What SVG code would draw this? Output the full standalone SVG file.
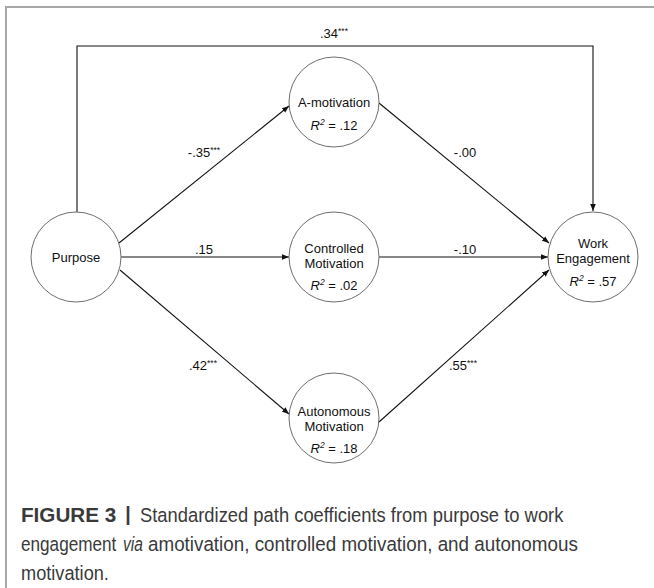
<svg xmlns="http://www.w3.org/2000/svg" width="654" height="588" viewBox="0 0 654 588">
<style>
.node circle{fill:#fff;stroke:#6e6e6e;stroke-width:1}
.t{font-family:"Liberation Sans",Arial,sans-serif;font-size:13px;fill:#111;text-anchor:middle}
.i{font-style:italic}
.sup{font-size:8.5px}
.conn line,.conn polyline{stroke:#111;stroke-width:1.1;fill:none}
.cap{font-family:"Liberation Sans",Arial,sans-serif;font-size:19.5px;fill:#3a3a3a}
</style>
<defs>
<marker id="ah" viewBox="0 0 10 10" refX="10" refY="5" markerWidth="7" markerHeight="7" markerUnits="userSpaceOnUse" orient="auto">
<path d="M0,1 L10,5 L0,9 Z" fill="#111"/>
</marker>
</defs>
<rect width="654" height="588" fill="#fff"/>
<g id="frame" stroke="#a8a8a8" stroke-width="2" fill="none">
<polyline points="6,588 6,7 654,7"/>
</g>
<g class="conn" id="connectors">
<polyline points="77,212 77,46 593,46 593,211" marker-end="url(#ah)"/>
<line x1="119" y1="243" x2="289" y2="106" marker-end="url(#ah)"/>
<line x1="121" y1="257" x2="289" y2="257" marker-end="url(#ah)"/>
<line x1="120" y1="270" x2="289" y2="414" marker-end="url(#ah)"/>
<line x1="379" y1="103" x2="549" y2="243" marker-end="url(#ah)"/>
<line x1="379" y1="257" x2="548" y2="257" marker-end="url(#ah)"/>
<line x1="379" y1="422" x2="549" y2="270" marker-end="url(#ah)"/>
</g>
<g id="labels" class="t">
<text x="334" y="38">.34<tspan class="sup" dy="-4">***</tspan></text>
<text x="204" y="157">-.35<tspan class="sup" dy="-4">***</tspan></text>
<text x="204" y="254">.15</text>
<text x="203" y="370">.42<tspan class="sup" dy="-4">***</tspan></text>
<text x="465" y="157">-.00</text>
<text x="465" y="254">-.10</text>
<text x="463" y="370">.55<tspan class="sup" dy="-4">***</tspan></text>
</g>
<g id="purpose" class="node">
<circle cx="76" cy="257" r="45"/>
<text class="t" x="76" y="262">Purpose</text>
</g>
<g id="amotivation" class="node">
<circle cx="334" cy="102" r="45"/>
<text class="t" x="334" y="107">A-motivation</text>
<text class="t" x="334" y="130"><tspan class="i">R</tspan><tspan class="sup i" dy="-5">2</tspan><tspan dy="5"> = .12</tspan></text>
</g>
<g id="controlled" class="node">
<circle cx="334" cy="257" r="45"/>
<text class="t" x="334" y="253">Controlled</text>
<text class="t" x="334" y="268">Motivation</text>
<text class="t" x="334" y="290"><tspan class="i">R</tspan><tspan class="sup i" dy="-5">2</tspan><tspan dy="5"> = .02</tspan></text>
</g>
<g id="autonomous" class="node">
<circle cx="334" cy="418" r="45"/>
<text class="t" x="334" y="416">Autonomous</text>
<text class="t" x="334" y="431">Motivation</text>
<text class="t" x="334" y="453"><tspan class="i">R</tspan><tspan class="sup i" dy="-5">2</tspan><tspan dy="5"> = .18</tspan></text>
</g>
<g id="engagement" class="node">
<circle cx="593" cy="257" r="45"/>
<text class="t" x="593" y="248">Work</text>
<text class="t" x="593" y="263">Engagement</text>
<text class="t" x="593" y="286"><tspan class="i">R</tspan><tspan class="sup i" dy="-5">2</tspan><tspan dy="5"> = .57</tspan></text>
</g>
<g id="caption">
<text class="cap" transform="translate(21,522) scale(1.06,1)" font-weight="bold" fill="#222">FIGURE 3</text>
<text class="cap" x="128" y="521" text-anchor="middle" font-weight="bold" fill="#333">|</text>
<text class="cap" transform="translate(140,522) scale(0.9425,1)">Standardized path coefficients from purpose to work</text>
<text class="cap" transform="translate(21,551) scale(0.88,1)">engagement</text>
<text class="cap" transform="translate(123,551) scale(0.8,1)" font-style="italic">via</text>
<text class="cap" transform="translate(148,551) scale(0.965,1)">amotivation, controlled motivation, and autonomous</text>
<text class="cap" transform="translate(21,580) scale(0.933,1)">motivation.</text>
</g>
</svg>
